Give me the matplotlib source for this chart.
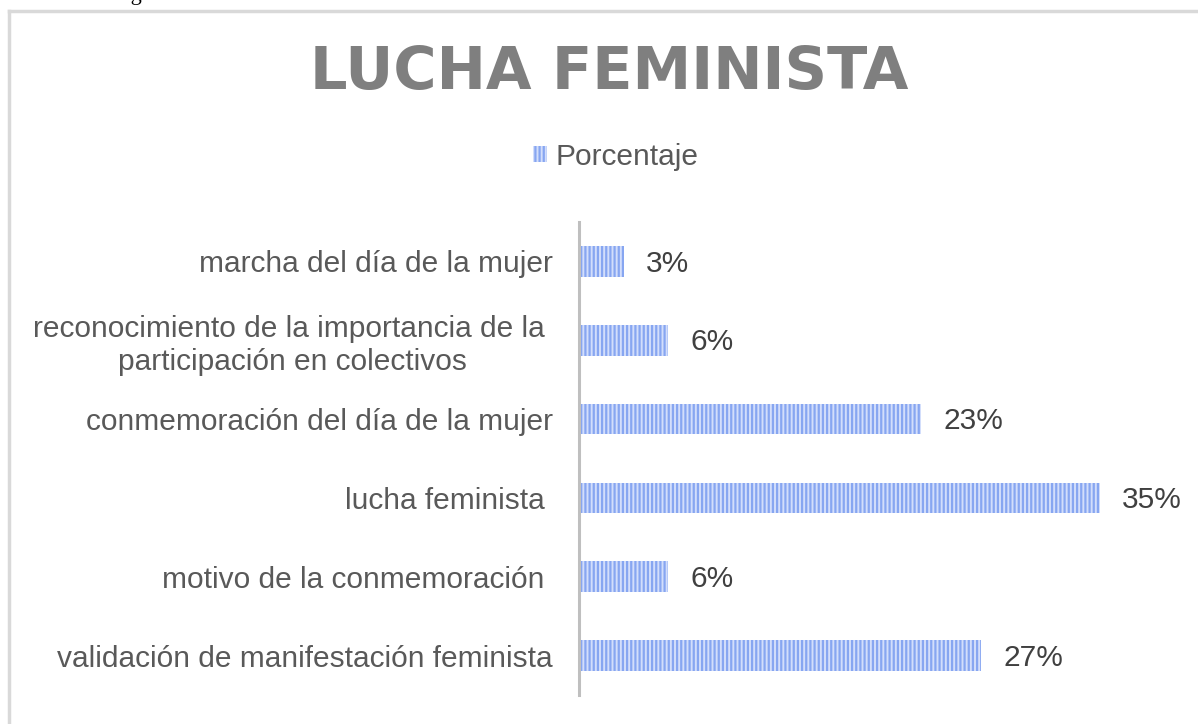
import matplotlib.pyplot as plt
from matplotlib.lines import Line2D

plt.rcParams['font.family'] = ['Liberation Sans', 'DejaVu Sans']
plt.rcParams['hatch.linewidth'] = 1.6

# data (top to bottom as in the chart)
categories = [
    "marcha del día de la mujer",
    "reconocimiento de la importancia de la \nparticipación en colectivos",
    "conmemoración del día de la mujer",
    "lucha feminista ",
    "motivo de la conmemoración ",
    "validación de manifestación feminista",
]
porcentaje = [3, 6, 23, 35, 6, 27]
value_labels = ["3%", "6%", "23%", "35%", "6%", "27%"]

fig = plt.figure(figsize=(11.98, 7.24), dpi=100)
ax = fig.add_axes([579/1198, 1 - 695/724, 591/1198, 473/724])

y = list(range(len(categories)))[::-1]
bars = ax.barh(y, porcentaje, height=0.39, color='#d3defb',
               edgecolor='#87a6f1', linewidth=0, hatch='||||',
               label='Porcentaje')

for b, lab in zip(bars, value_labels):
    ax.annotate(lab, (b.get_width(), b.get_y() + b.get_height()/2),
                xytext=(16, -1.5), textcoords='offset points',
                va='center', ha='left', fontsize=21.5, color='#404040')

ax.set_xlim(0, 39.7)
ax.set_ylim(-0.5, len(categories) - 0.5)
ax.set_yticks(y)
ax.set_yticklabels(categories, fontsize=21.5, color='#595959',
                   multialignment='center')
ax.tick_params(axis='y', length=0, pad=19)
ax.set_xticks([])
for s in ['top', 'right', 'bottom']:
    ax.spines[s].set_visible(False)
ax.spines['left'].set_color('#bfbfbf')
ax.spines['left'].set_linewidth(2.2)

fig.text(609/1198, 1 - 72/724, "LUCHA FEMINISTA", ha='center', va='center',
         fontsize=42.5, fontweight='bold', color='#7f7f7f',
         family='DejaVu Sans')

fig.legend(handles=[bars], labels=['Porcentaje'], loc='center',
           bbox_to_anchor=(616/1198, 1 - 157/724), frameon=False,
           fontsize=21.5, labelcolor='#595959', handlelength=0.45,
           handleheight=0.45, handletextpad=0.3)

# outer chart border (cropped at right and bottom)
fig.add_artist(Line2D([9/1198, 1], [1 - 11/724, 1 - 11/724],
                      color='#d9d9d9', linewidth=2.5))
fig.add_artist(Line2D([9/1198, 9/1198], [0, 1 - 11/724],
                      color='#d9d9d9', linewidth=2.5))

# caption above the chart, only its descender shows
fig.text(112/1198, 1.0, "Figura", ha='left', va='baseline',
         fontsize=16, family='Liberation Serif', color='black')

fig.savefig("out.png", dpi=100, facecolor='white')
